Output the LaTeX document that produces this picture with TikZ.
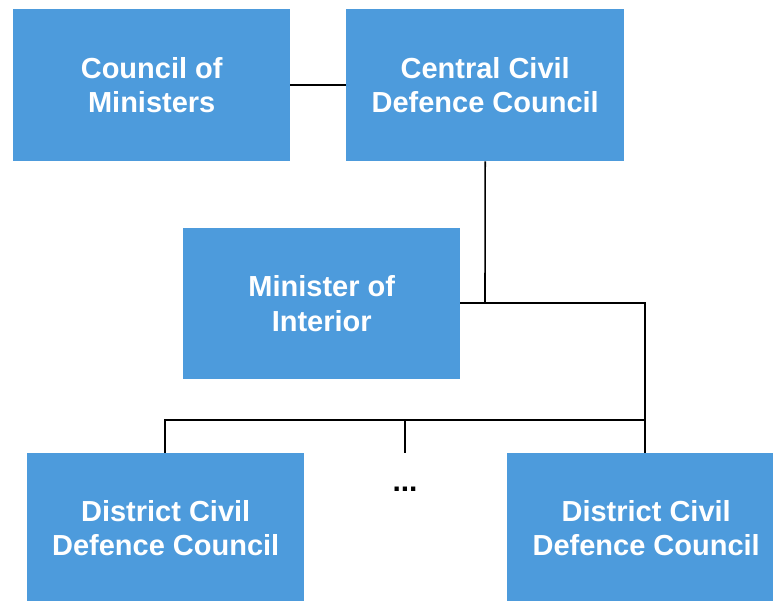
\documentclass[tikz,border=0pt]{standalone}
\usepackage{fontspec}
\setmainfont{Liberation Sans}
\definecolor{boxblue}{HTML}{4D9BDC}
\begin{document}
\begin{tikzpicture}[x=1pt,y=-1pt,
  orgbox/.style={fill=boxblue, draw=none, text=white, font=\fontsize{29}{34.5}\selectfont\bfseries,
    align=center, inner sep=0pt, anchor=north west},
  link/.style={draw=black, line width=1.6pt}]
  \useasboundingbox (0,0) rectangle (773,600);
  % boxes given by top-left corner and size
  \node[orgbox, minimum width=277pt, minimum height=152pt] (com) at (13,9) {Council of\\Ministers};
  \node[orgbox, minimum width=278pt, minimum height=152pt] (ccd) at (346,9) {Central Civil\\Defence Council};
  \node[orgbox, minimum width=277pt, minimum height=151pt] (moi) at (183,228) {Minister of\\Interior};
  \node[orgbox, minimum width=277pt, minimum height=150pt] (dl) at (27,453) {District Civil\\Defence Council};
  \node[orgbox, minimum width=278pt, minimum height=150pt] (dr) at (507,453) {District Civil\\Defence Council};
  \node[font=\fontsize{30}{34}\selectfont\bfseries] (dots) at (405,489) {...};
  % junction points
  \coordinate (j1) at (485,303);
  \coordinate (j2) at (645,303);
  \coordinate (j3) at (645,420);
  \coordinate (jl) at (165,420);
  \coordinate (jm) at (405,420);
  \coordinate (jmend) at (405,453);
  % connectors
  \draw[link] (com.east) -- (ccd.west);
  \draw[link] (ccd.south) -- (j1);
  \draw[link] (moi.east |- j1) -- (j2) -- (dr.north -| j2);
  \draw[link] (j3) -- (jl) -- (dl.north -| jl);
  \draw[link] (jm) -- (jmend);
\end{tikzpicture}
\end{document}
